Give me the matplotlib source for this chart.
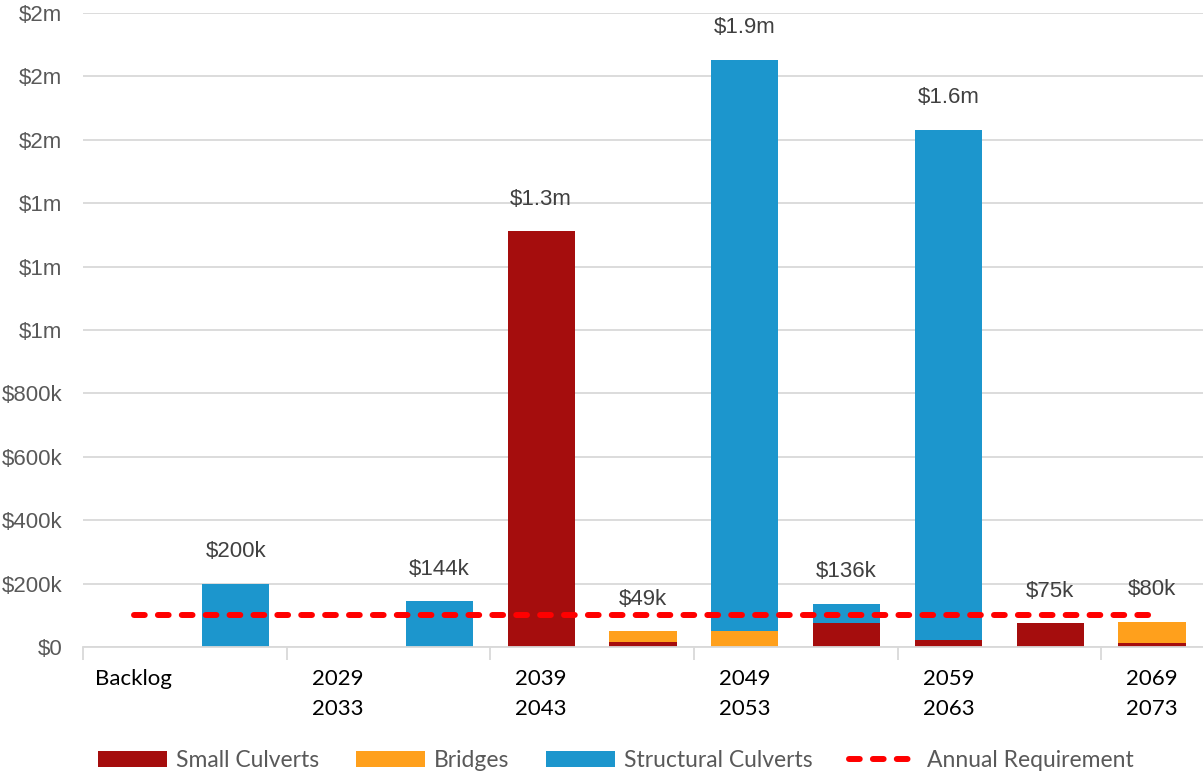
import matplotlib
matplotlib.use("Agg")
import matplotlib.pyplot as plt
import numpy as np

# periods (every other label is shown on the axis)
categories = ['Backlog', '2024\n2028', '2029\n2033', '2034\n2038', '2039\n2043', '2044\n2048',
              '2049\n2053', '2054\n2058', '2059\n2063', '2064\n2068', '2069\n2073']

small_culverts = [0, 0, 0, 0, 1312000, 16000, 0, 75000, 22000, 75000, 12000]
bridges = [0, 0, 0, 0, 0, 33000, 50000, 0, 0, 0, 68000]
structural_culverts = [0, 200000, 0, 144000, 0, 0, 1802000, 61000, 1610000, 0, 0]
annual_requirement = [100000] * 11

total_labels = ['', '$200k', '', '$144k', '$1.3m', '$49k', '$1.9m', '$136k', '$1.6m', '$75k', '$80k']

y_ticks = [0, 200000, 400000, 600000, 800000, 1000000, 1200000, 1400000, 1600000, 1800000, 2000000]
y_tick_labels = ['$0', '$200k', '$400k', '$600k', '$800k', '$1m', '$1m', '$1m', '$2m', '$2m', '$2m']

c_small = '#A50D0D'
c_bridge = '#FFA01C'
c_struct = '#1C96CD'

fig = plt.figure(figsize=(12.03, 7.75), dpi=100)
ax = fig.add_axes([83 / 1203, 1 - 647 / 775, 1 - 83 / 1203, (647 - 13) / 775])

x = np.arange(len(categories))
w = 0.66
small = np.array(small_culverts)
brid = np.array(bridges)
struc = np.array(structural_culverts)

b1 = ax.bar(x, small, w, color=c_small, label='Small Culverts', zorder=2)
b2 = ax.bar(x, brid, w, bottom=small, color=c_bridge, label='Bridges', zorder=2)
b3 = ax.bar(x, struc, w, bottom=small + brid, color=c_struct, label='Structural Culverts', zorder=2)
ln, = ax.plot(x, annual_requirement, color='#FF0000', lw=4.3, linestyle=(0, (1.8, 2.2)),
              dash_capstyle='round', label='Annual Requirement', zorder=3)

totals = small + brid + struc
for xi, t, lab in zip(x, totals, total_labels):
    if lab:
        ax.annotate(lab, (xi, t), xytext=(0, 23), textcoords='offset points',
                    ha='center', va='center', fontsize=16, color='#404040',
                    family='Liberation Sans')

ax.set_xlim(-0.5, len(categories) - 0.5)
ax.set_ylim(0, 2000000)
ax.set_yticks(y_ticks)
ax.set_yticklabels(y_tick_labels, fontsize=16, color='#595959', family='Liberation Sans')
ax.tick_params(axis='y', length=0, pad=15)
ax.grid(axis='y', color='#D9D9D9', lw=1.3, zorder=0)

ax.set_xticks(x[::2])
ax.set_xticklabels(categories[::2], fontsize=16, color='black', family='Lato',
                   linespacing=1.6, va='top')
ax.set_xticks(np.arange(-0.5, len(categories), 2), minor=True)
ax.tick_params(axis='x', which='major', length=0, pad=16)
ax.tick_params(axis='x', which='minor', length=9, color='#D9D9D9', width=1.3)

for s in ['top', 'right', 'left']:
    ax.spines[s].set_visible(False)
ax.spines['bottom'].set_color('#D9D9D9')
ax.spines['bottom'].set_linewidth(1.3)

fig.legend([b1, b2, b3, ln], ['Small Culverts', 'Bridges', 'Structural Culverts', 'Annual Requirement'],
           loc='lower center', bbox_to_anchor=(0.512, -0.022), ncol=4, frameon=False,
           labelcolor='#595959', handlelength=3.0, handleheight=0.7,
           columnspacing=1.6, handletextpad=0.4, prop={'family': 'Lato', 'size': 16.5})

fig.savefig('out.png', dpi=100)
